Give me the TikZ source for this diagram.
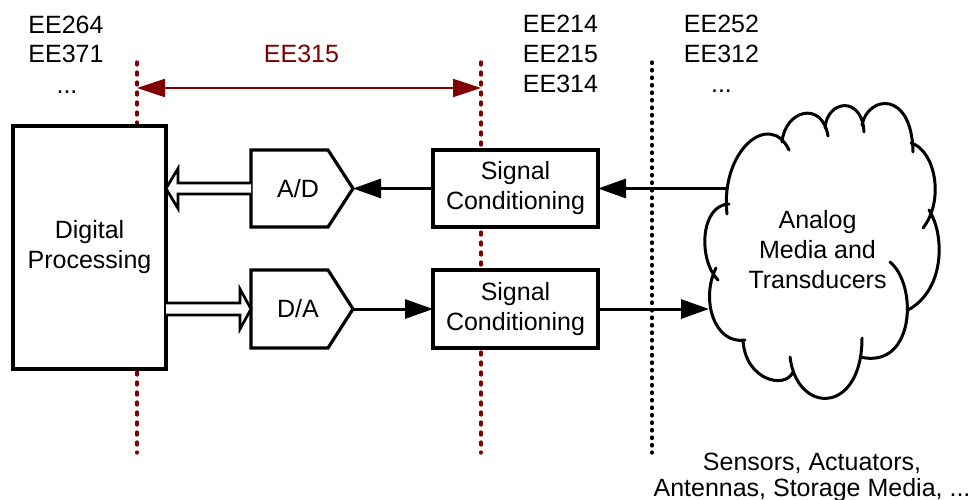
\documentclass[tikz,border=0pt]{standalone}
\usepackage{fontspec}
\setmainfont{Liberation Sans}
\usetikzlibrary{arrows.meta,calc}
\definecolor{eemaroon}{HTML}{7F0000}

\begin{document}
\begin{tikzpicture}[x=1pt,y=-1pt,
  every node/.style={font=\fontsize{25}{30}\selectfont, inner sep=0pt, outer sep=0pt},
  lbl/.style={anchor=base},
  blk/.style={draw, line width=3.2pt, fill=white, align=center},
  conv/.style={draw, line width=3.2pt, fill=white, line join=miter},
  sig/.style={line width=3pt, -{Triangle[length=28pt,width=19pt]}},
  bus/.style={draw, line width=2.7pt, fill=white, line join=miter},
  puff/.style={line width=3pt, line cap=round},
  bound/.style={eemaroon, line width=3.2pt, line cap=round, dash pattern=on 3pt off 7pt},
  tier/.style={black, line width=3.2pt, line cap=round, dash pattern=on 1.5pt off 6pt},
  span/.style={eemaroon, line width=2.2pt,
    {Triangle[length=28pt,width=18pt]}-{Triangle[length=28pt,width=18pt]}}
]
\useasboundingbox (0,0) rectangle (977,500);

% course labels above the tiers
\node[lbl] (l1) at (66,34) {EE264};
\node[lbl] (l2) at (66,63) {EE371};
\node[lbl] (l3) at (67,94) {...};
\node[lbl] (m1) at (560.5,33) {EE214};
\node[lbl] (m2) at (560.5,63) {EE215};
\node[lbl] (m3) at (560.5,93) {EE314};
\node[lbl] (r1) at (721.5,33) {EE252};
\node[lbl] (r2) at (721.5,63) {EE312};
\node[lbl] (r3) at (721.5,93) {...};
\node[lbl, text=eemaroon] (ee315) at (301.5,63) {EE315};

% tier boundaries (drawn first, the blocks cover them)
\coordinate (b1t) at (137,62);  \coordinate (b1b) at (137,453);
\coordinate (b2t) at (481,62);  \coordinate (b2b) at (481,453);
\coordinate (b3t) at (652,62);  \coordinate (b3b) at (652,453);
\draw[bound] (b1t) -- (b1b);
\draw[bound] (b2t) -- (b2b);
\draw[span] (b1t |- 0,88) -- (b2t |- 0,88);

% digital processing block
\node[blk, minimum width=153, minimum height=243] (dsp) at (89.5,247.5) {Digital\\Processing};

% converters
\node[minimum width=102, minimum height=77] (ad) at (302,188.5) {};
\node[minimum width=102, minimum height=78] (da) at (302,309) {};
\foreach \c in {ad,da}{
  \draw[conv] (\c.north west) -- ($(\c.north east)+(-25,0)$) -- (\c.east)
    -- ($(\c.south east)+(-25,0)$) -- (\c.south west) -- cycle;
}
\node (adt) at (298,188.5) {A/D};
\node (dat) at (298,309) {D/A};

% signal conditioning
\node[blk, minimum width=165, minimum height=77] (sc1) at (515.5,188.5) {Signal\\Conditioning};
\node[blk, minimum width=165, minimum height=78] (sc2) at (515.5,309) {Signal\\Conditioning};

% analog world: a cloud of overlapping puffs
\draw[puff]
  (729,204) .. controls (700,205) and (698,260) .. (718,280)
  (716,268) .. controls (700,300) and (715,345) .. (745,340)
  (743,340) .. controls (745,380) and (785,390) .. (793,372)
  (790,357) .. controls (797,415) and (862,415) .. (862,338)
  (890,262) .. controls (918,285) and (915,370) .. (860,357)
  (929,210) .. controls (945,235) and (945,290) .. (908,310)
  (911,143) .. controls (935,150) and (945,200) .. (923,228)
  (862,125) .. controls (868,95) and (912,90) .. (913,152)
  (825,128) .. controls (827,100) and (862,95) .. (864,132)
  (782,142) .. controls (785,110) and (822,100) .. (828,136)
  (727,214) .. controls (720,150) and (770,110) .. (789,150);
\node[align=center] (media) at (817.5,249.5) {Analog\\Media and\\Transducers};
\coordinate (cin) at (726,188.5);
\coordinate (cout) at (709,309);

% signal paths
\draw[sig] (cin) -- (sc1.east);
\draw[sig] (sc1.west) -- (ad.east);
\draw[sig] (da.east) -- (sc2.west);
\draw[sig] (sc2.east) -- (cout);
\draw[tier] (b3t) -- (b3b);

% parallel buses
\draw[bus] ($(ad.west)+(0,-5.5)$) -- ($(dsp.east |- ad)+(12,-5.5)$)
  -- ($(dsp.east |- ad)+(12,-20)$) -- (dsp.east |- ad)
  -- ($(dsp.east |- ad)+(12,20)$) -- ($(dsp.east |- ad)+(12,5.5)$)
  -- ($(ad.west)+(0,5.5)$);
\draw[bus] ($(dsp.east |- da)+(0,-6)$) -- ($(da.west)+(-11,-6)$)
  -- ($(da.west)+(-11,-20)$) -- (da.west)
  -- ($(da.west)+(-11,20)$) -- ($(da.west)+(-11,6)$)
  -- ($(dsp.east |- da)+(0,6)$);

% examples
\node[lbl] (ex1) at (812,470) {Sensors, Actuators,};
\node[lbl] (ex2) at (812,496) {Antennas, Storage Media, ...};
\end{tikzpicture}
\end{document}
